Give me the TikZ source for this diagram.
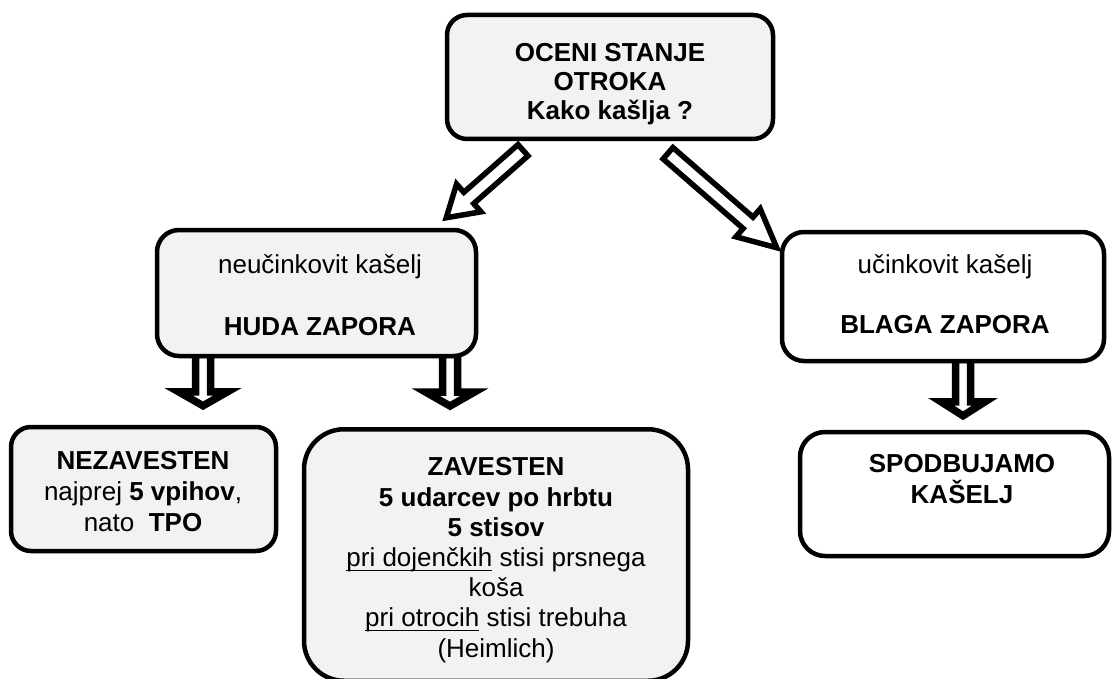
\documentclass[tikz,border=0pt]{standalone}
\usepackage{fontspec}
\setmainfont{Liberation Sans}
\usetikzlibrary{calc,backgrounds}

\definecolor{boxgray}{HTML}{F2F2F2}

% hollow block arrow: name, tail, tip, shaft half-width, head half-width, head length
\newcommand{\blockarr}[6]{%
  \coordinate (#1-h) at ($(#3)!#6!(#2)$);
  \draw[hollowarrow]
    ($(#2)!#4!90:(#3)$) -- ($(#1-h)!#4!90:(#3)$) -- ($(#1-h)!#5!90:(#3)$) --
    (#3) --
    ($(#1-h)!#5!-90:(#3)$) -- ($(#1-h)!#4!-90:(#3)$) -- ($(#2)!#4!-90:(#3)$) -- cycle;
}

% underline sitting close to the baseline
\newcommand{\lowline}[1]{{\setbox0\hbox{#1}\rlap{\rule[-4.5pt]{\wd0}{1.4pt}}\box0}}

\tikzset{
  panel/.style={draw=black, line width=4.5pt, inner sep=0pt},
  graypanel/.style={panel, fill=boxgray},
  whitepanel/.style={panel, fill=white},
  label/.style={inner sep=0pt, align=center, anchor=base,
    font=\fontsize{26}{30}\selectfont},
  hollowarrow/.style={draw=black, fill=white, line join=miter},
}

\begin{document}
\begin{tikzpicture}[x=1pt, y=-1pt]
\useasboundingbox (0,0) rectangle (1113,679);

% boxes
\node[graypanel, minimum width=326pt, minimum height=124pt, rounded corners=20pt] (top) at (610,77) {};
\node[graypanel, minimum width=319pt, minimum height=126pt, rounded corners=22pt] (huda) at (316.5,293) {};
\node[whitepanel, minimum width=322pt, minimum height=129pt, rounded corners=22pt] (blaga) at (943,296.5) {};
\node[graypanel, minimum width=265pt, minimum height=124pt, rounded corners=20pt] (nez) at (143.5,489) {};
\node[graypanel, minimum width=384pt, minimum height=251.5pt, rounded corners=40pt] (zav) at (496,555) {};
\node[whitepanel, minimum width=309pt, minimum height=124pt, rounded corners=25pt] (spod) at (954.5,494) {};

% texts (each placed at the baseline of its last line)
\node[label, font=\fontsize{26}{29}\selectfont\bfseries] (topText) at (610,120)
  {OCENI STANJE\\OTROKA\\Kako kašlja ?};
\node[label] (hudaText) at (320,335)
  {neučinkovit kašelj\\[32pt]\textbf{HUDA ZAPORA}};
\node[label] (blagaText) at (945,333)
  {učinkovit kašelj\\[30pt]\textbf{BLAGA ZAPORA}};
\node[label, font=\fontsize{26}{31}\selectfont] (nezText) at (143,531)
  {\textbf{NEZAVESTEN}\\najprej \textbf{5 vpihov},\\nato\ \ \textbf{TPO}};
\node[label, font=\fontsize{26}{30.2}\selectfont] (zavText) at (496,657)
  {\textbf{ZAVESTEN}\\\textbf{5 udarcev po hrbtu}\\\textbf{5 stisov}\\
   \lowline{pri dojenčkih} stisi prsnega\\koša\\
   \lowline{pri otrocih} stisi trebuha\\(Heimlich)};
\node[label, font=\fontsize{26}{31}\selectfont\bfseries] (spodText) at (962,503)
  {SPODBUJAMO\\KAŠELJ};

% arrow end points
\coordinate (d1s) at ($(top.south)+(-87,9)$);
\coordinate (d1e) at ($(huda.north east)+(-32,-10)$);
\coordinate (d2s) at ($(top.south)+(58,12)$);
\coordinate (d2e) at ($(blaga.north west)+(-3,18)$);
\coordinate (v1s) at ($(huda.south)+(-113.5,-4)$);
\coordinate (v1e) at ($(v1s |- nez.north)+(0,-19)$);
\coordinate (v2s) at ($(huda.south)+(133.5,-4)$);
\coordinate (v2e) at ($(v2s |- zav.north)+(0,-21)$);
\coordinate (v3s) at ($(blaga.south)+(20,-4)$);
\coordinate (v3e) at ($(v3s |- spod.north)+(0,-14)$);

\begin{scope}[on background layer]
  \begin{scope}[line width=5.5pt]
    \blockarr{d1}{d1s}{d1e}{7.5pt}{18.5pt}{30pt}
    \blockarr{d2}{d2s}{d2e}{7.5pt}{18.5pt}{38pt}
  \end{scope}
  \begin{scope}[line width=7.5pt]
    \blockarr{v1}{v1s}{v1e}{7.5pt}{24.5pt}{14pt}
    \blockarr{v2}{v2s}{v2e}{7.5pt}{24.5pt}{14pt}
    \blockarr{v3}{v3s}{v3e}{7.5pt}{22pt}{14pt}
  \end{scope}
\end{scope}
\end{tikzpicture}
\end{document}
